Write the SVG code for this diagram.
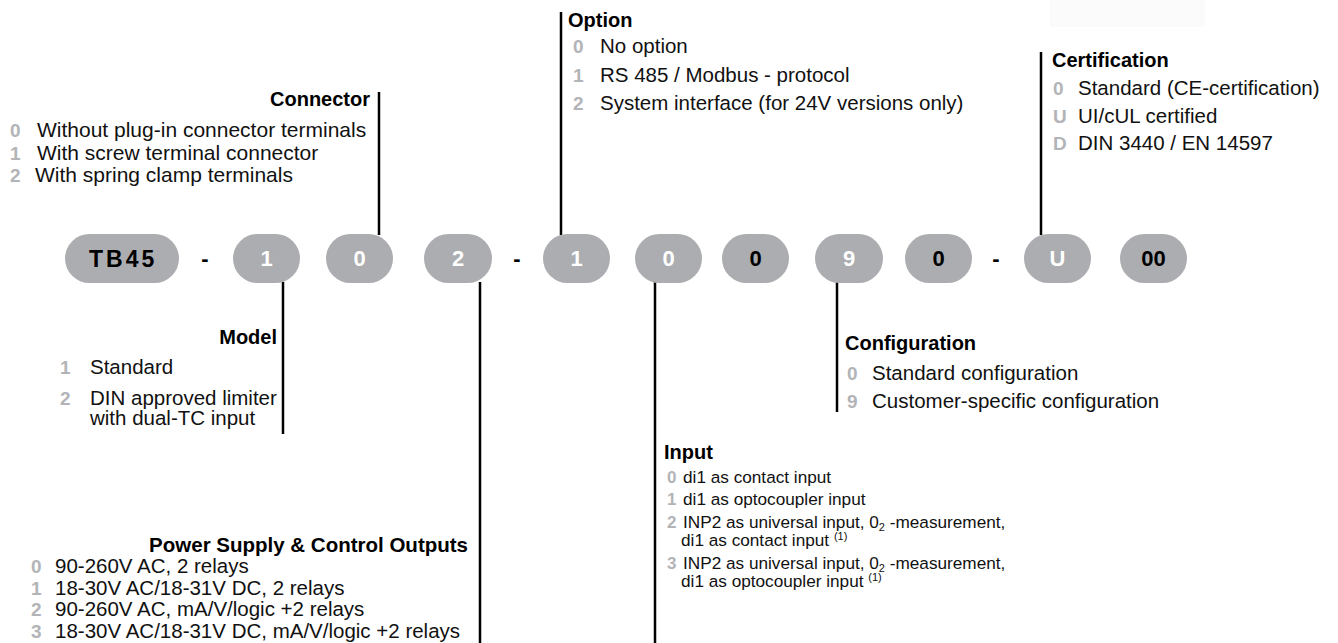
<svg xmlns="http://www.w3.org/2000/svg" width="1338" height="643" viewBox="0 0 1338 643">
<style>
.pill{fill:#acadb0}
.pt{font-family:"Liberation Sans",Arial,sans-serif;font-weight:bold;font-size:22px;text-anchor:middle}
.w{fill:#fff}
.k{fill:#000}
.h{font-family:"Liberation Sans",Arial,sans-serif;font-weight:bold;font-size:20px;fill:#000}
.t{font-family:"Liberation Sans",Arial,sans-serif;font-size:20.5px;fill:#111}
.ti{font-family:"Liberation Sans",Arial,sans-serif;font-size:17.2px;fill:#111}
.d{font-family:"Liberation Sans",Arial,sans-serif;font-weight:bold;font-size:19px;fill:#b3b4b7}
.di{font-family:"Liberation Sans",Arial,sans-serif;font-weight:bold;font-size:17px;fill:#b3b4b7}
.e{text-anchor:end}
.ln{stroke:#000;stroke-width:2.5;fill:none}
.sm{font-size:11px}
</style>
<rect x="1050" y="0" width="155" height="27" fill="#fbfbfb"/>
<g id="connectors">
<line class="ln" x1="379" y1="92" x2="379" y2="235"/>
<line class="ln" x1="283" y1="282" x2="283" y2="434"/>
<line class="ln" x1="480" y1="282" x2="480" y2="643"/>
<line class="ln" x1="561" y1="12" x2="561" y2="235"/>
<line class="ln" x1="655" y1="282" x2="655" y2="643"/>
<line class="ln" x1="837" y1="282" x2="837" y2="412"/>
<line class="ln" x1="1041" y1="52" x2="1041" y2="235"/>
</g>
<g id="code">
<g id="p-tb45"><rect class="pill" x="65" y="234" width="114" height="49" rx="24.5"/><text class="pt k" x="89" y="266.5" style="text-anchor:start;letter-spacing:3px;font-size:23px">TB45</text></g>
<text class="pt k" x="205" y="266">-</text>
<g id="p-model"><rect class="pill" x="233" y="234" width="67" height="49" rx="24.5"/><text class="pt w" x="266.5" y="266">1</text></g>
<g id="p-conn"><rect class="pill" x="326" y="234" width="67" height="49" rx="24.5"/><text class="pt w" x="359.5" y="266">0</text></g>
<g id="p-power"><rect class="pill" x="424" y="234" width="68" height="49" rx="24.5"/><text class="pt w" x="458" y="266">2</text></g>
<text class="pt k" x="517" y="266">-</text>
<g id="p-option"><rect class="pill" x="543" y="234" width="67" height="49" rx="24.5"/><text class="pt w" x="576.5" y="266">1</text></g>
<g id="p-input"><rect class="pill" x="635" y="234" width="67" height="49" rx="24.5"/><text class="pt w" x="668.5" y="266">0</text></g>
<g id="p-fix1"><rect class="pill" x="722" y="234" width="67" height="49" rx="24.5"/><text class="pt k" x="755.5" y="266">0</text></g>
<g id="p-config"><rect class="pill" x="815" y="234" width="68" height="49" rx="24.5"/><text class="pt w" x="849" y="266">9</text></g>
<g id="p-fix2"><rect class="pill" x="905" y="234" width="67" height="49" rx="24.5"/><text class="pt k" x="938.5" y="266">0</text></g>
<text class="pt k" x="996" y="266">-</text>
<g id="p-cert"><rect class="pill" x="1024" y="234" width="67" height="49" rx="24.5"/><text class="pt w" x="1057.5" y="266">U</text></g>
<g id="p-fix3"><rect class="pill" x="1120" y="234" width="67" height="49" rx="24.5"/><text class="pt k" x="1153.5" y="266">00</text></g>
</g>
<g id="connector">
<text class="h e" x="370" y="106">Connector</text>
<text class="d" x="10" y="137">0</text><text class="t" x="37" y="137" style="font-size:21px">Without plug-in connector terminals</text>
<text class="d" x="10" y="159.5">1</text><text class="t" x="37" y="159.5" style="font-size:21px">With screw terminal connector</text>
<text class="d" x="10" y="182">2</text><text class="t" x="35" y="182" style="font-size:21px">With spring clamp terminals</text>
</g>
<g id="model">
<text class="h e" x="277" y="344">Model</text>
<text class="d" x="60" y="374">1</text><text class="t" x="90" y="374">Standard</text>
<text class="d" x="60" y="405">2</text><text class="t" x="90" y="405">DIN approved limiter</text>
<text class="t" x="90" y="425">with dual-TC input</text>
</g>
<g id="power">
<text class="h e" x="468" y="552" style="font-size:20.5px">Power Supply &amp; Control Outputs</text>
<text class="d" x="31" y="573">0</text><text class="t" x="55" y="573">90-260V AC, 2 relays</text>
<text class="d" x="31" y="594.5">1</text><text class="t" x="55" y="594.5">18-30V AC/18-31V DC, 2 relays</text>
<text class="d" x="31" y="616">2</text><text class="t" x="55" y="616">90-260V AC, mA/V/logic +2 relays</text>
<text class="d" x="31" y="637.5">3</text><text class="t" x="55" y="637.5">18-30V AC/18-31V DC, mA/V/logic +2 relays</text>
</g>
<g id="option">
<text class="h" x="568" y="27">Option</text>
<text class="d" x="573" y="53">0</text><text class="t" x="600" y="53">No option</text>
<text class="d" x="573" y="82">1</text><text class="t" x="600" y="82">RS 485 / Modbus - protocol</text>
<text class="d" x="573" y="110">2</text><text class="t" x="600" y="110">System interface (for 24V versions only)</text>
</g>
<g id="input">
<text class="h" x="664" y="459">Input</text>
<text class="di" x="667" y="483">0</text><text class="ti" x="683" y="483">di1 as contact input</text>
<text class="di" x="667" y="505">1</text><text class="ti" x="683" y="505">di1 as optocoupler input</text>
<text class="di" x="667" y="528">2</text><text class="ti" x="683" y="528">INP2 as universal input, 0<tspan class="sm" dy="3">2</tspan><tspan dy="-3"> -measurement,</tspan></text>
<text class="ti" x="681" y="546">di1 as contact input <tspan class="sm" dy="-6">(1)</tspan></text>
<text class="di" x="667" y="569">3</text><text class="ti" x="683" y="569">INP2 as universal input, 0<tspan class="sm" dy="3">2</tspan><tspan dy="-3"> -measurement,</tspan></text>
<text class="ti" x="681" y="587">di1 as optocoupler input <tspan class="sm" dy="-6">(1)</tspan></text>
</g>
<g id="configuration">
<text class="h" x="845" y="350">Configuration</text>
<text class="d" x="847" y="380">0</text><text class="t" x="872" y="380">Standard configuration</text>
<text class="d" x="847" y="408">9</text><text class="t" x="872" y="408">Customer-specific configuration</text>
</g>
<g id="certification">
<text class="h" x="1052" y="67">Certification</text>
<text class="d" x="1053" y="95">0</text><text class="t" x="1078" y="95">Standard (CE-certification)</text>
<text class="d" x="1053" y="123">U</text><text class="t" x="1078" y="123">UI/cUL certified</text>
<text class="d" x="1053" y="150">D</text><text class="t" x="1078" y="150">DIN 3440 / EN 14597</text>
</g>
</svg>
